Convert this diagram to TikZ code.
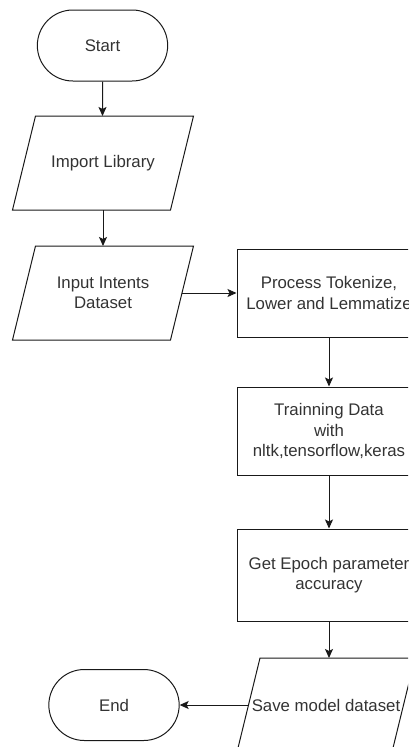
\documentclass[tikz,border=0pt]{standalone}
\usepackage{fontspec}
\setmainfont{Liberation Sans}
\usetikzlibrary{shapes.misc}
\usetikzlibrary{arrows.meta}

\begin{document}
\begin{tikzpicture}[x=1pt, y=-1pt, line width=1pt,
    every node/.style={font=\fontsize{16.8}{20.5}\selectfont, text=black!80, align=center},
    terminal/.style={draw=black!90, rounded rectangle, minimum width=137pt, minimum height=71pt},
    iobox/.style={rectangle, inner sep=1pt, outer sep=0pt, minimum width=158pt, minimum height=94pt,
      append after command={\pgfextra{\draw[black!90, line width=1pt]
        ([xshift=11.5pt]\tikzlastnode.north west) -- ([xshift=11.5pt]\tikzlastnode.north east)
        -- ([xshift=-11.5pt]\tikzlastnode.south east) -- ([xshift=-11.5pt]\tikzlastnode.south west)
        -- cycle;}}},
    procbox/.style={draw=black!90, rectangle, minimum width=184pt, minimum height=88pt},
    flow/.style={draw=black!90, -{Stealth[length=9pt, width=8pt, inset=2pt]}}]
    \clip (0,0) rectangle (408,747);

    \node[terminal] (start) at (102.5,45.5) {Start};
    \node[iobox] (lib) at (103,163) {Import Library};
    \node[iobox] (intents) at (103,293) {Input Intents\\Dataset};

    \node[procbox] (token) at (329,293) {Process Tokenize,\\Lower and Lemmatize};
    \node[procbox] (train) at (329,431) {Trainning Data\\with\\nltk,tensorflow,keras};
    \node[procbox, minimum height=92pt] (epoch) at (329,575) {Get Epoch parameter\\accuracy};
    \node[iobox, minimum width=155pt] (save) at (326,705) {Save model dataset};

    \node[terminal] (end) at (114,705) {End};

    \draw[flow] (start) -- (start |- lib.north);
    \draw[flow] (lib) -- (intents);
    \draw[flow] (intents.east) -- (token.west);
    \draw[flow] (token) -- (train);
    \draw[flow] (train) -- (epoch);
    \draw[flow] (epoch) -- (epoch |- save.north);
    \draw[flow] (save.west) -- (end.east);
  \end{tikzpicture}
\end{document}
